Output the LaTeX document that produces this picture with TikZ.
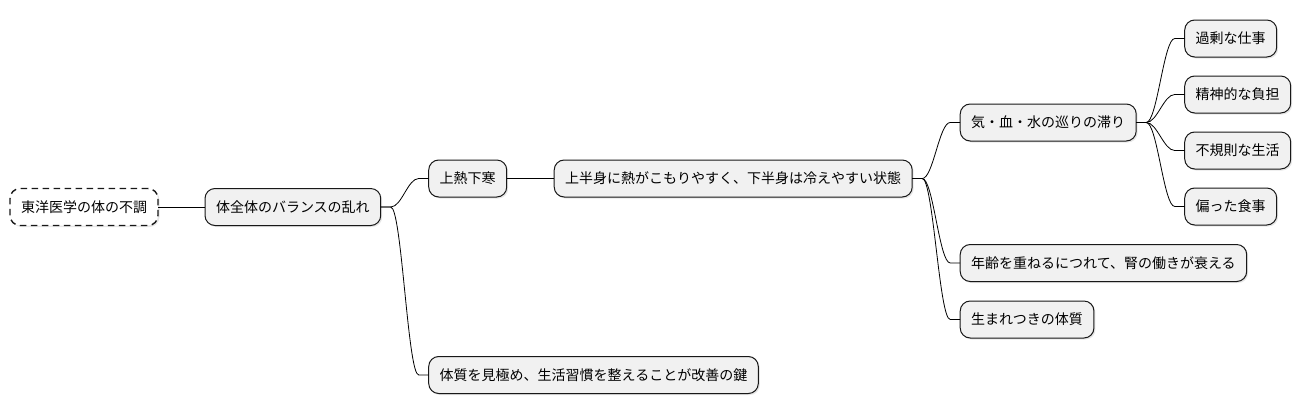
\documentclass[tikz,border=0pt]{standalone}
\usepackage{fontspec}
\usepackage{tikz}
\usetikzlibrary{positioning,shadows}
\newfontfamily\jpfont{Noto Sans CJK JP}
\definecolor{nodefill}{HTML}{F1F1F1}
\definecolor{nodeline}{HTML}{181818}
\tikzset{
  topic/.style={draw=nodeline, fill=nodefill, line width=1pt, rounded corners=10pt,
    minimum height=37pt, inner xsep=11pt, inner ysep=0pt, outer sep=0pt,
    text height=12pt, text depth=2pt, font=\jpfont\fontsize{14}{16}\selectfont,
    drop shadow={shadow xshift=1.5pt, shadow yshift=-1.5pt, opacity=.2}},
  rootnode/.style={topic, fill=white, line width=1.4pt, dash pattern=on 6.5pt off 4.5pt},
  link/.style={draw=black, line width=0.8pt}
}
\newcommand{\mmlink}[2]{\draw[link] (#1.east) -- ++(10,0) .. controls +(11,0) and +(-11,0) .. ([xshift=-10pt]#2.west) -- (#2.west);}
\begin{document}
\begin{tikzpicture}[x=1pt, y=-1pt]
      \useasboundingbox (0,0) rectangle (1300,415);
      % Define nodes
      \node[rootnode, anchor=west]               (root)    at (10,207) {東洋医学の体の不調};
      \node[topic, right=47pt of root]           (balance) {体全体のバランスの乱れ};
      \node[topic, right=48pt of balance, yshift=28.5pt] (jonetsu) {上熱下寒};
      \node[topic, right=47.5pt of jonetsu]      (state)   {上半身に熱がこもりやすく、下半身は冷えやすい状態};
      \node[topic, right=48pt of balance, yshift=-168pt] (key) {体質を見極め、生活習慣を整えることが改善の鍵};
      \node[topic, right=48pt of state, yshift=56pt]     (flow)  {気・血・水の巡りの滞り};
      \node[topic, right=48pt of state, yshift=-84.5pt]  (age)   {年齢を重ねるにつれて、腎の働きが衰える};
      \node[topic, right=48pt of state, yshift=-141pt]   (born)  {生まれつきの体質};
      \node[topic, right=48.5pt of flow, yshift=84pt]    (work)  {過剰な仕事};
      \node[topic, right=48.5pt of flow, yshift=28pt]    (mind)  {精神的な負担};
      \node[topic, right=48.5pt of flow, yshift=-28pt]   (life)  {不規則な生活};
      \node[topic, right=48.5pt of flow, yshift=-84pt]   (food)  {偏った食事};
      % Connect nodes
      \draw[link] (root) -- (balance);
      \draw[link] (jonetsu) -- (state);
      \mmlink{balance}{jonetsu}
      \mmlink{balance}{key}
      \mmlink{state}{flow}
      \mmlink{state}{age}
      \mmlink{state}{born}
      \mmlink{flow}{work}
      \mmlink{flow}{mind}
      \mmlink{flow}{life}
      \mmlink{flow}{food}
    \end{tikzpicture}
\end{document}
